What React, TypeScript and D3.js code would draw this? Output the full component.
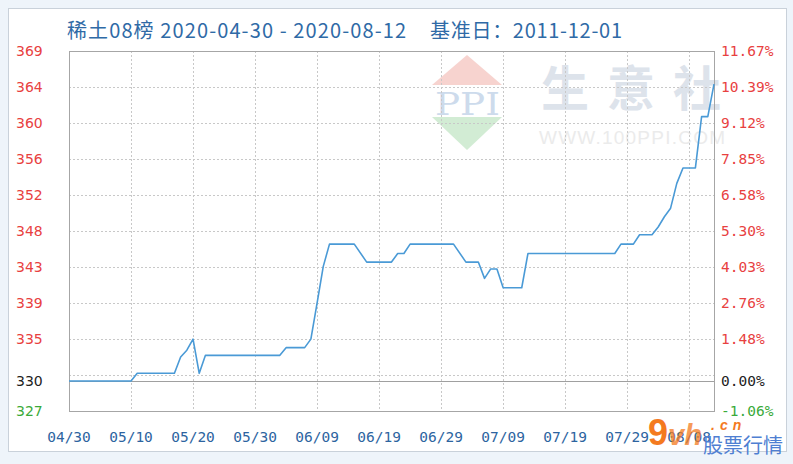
import { useEffect, useRef } from "react"
import * as d3 from "d3"

// chart values
const titleMain = "稀土08榜 2020-04-30 - 2020-08-12"
const titleBase = "基准日：2011-12-01"

const dates = [
  "2020-04-30", "2020-05-10", "2020-05-11", "2020-05-17", "2020-05-18", "2020-05-19",
  "2020-05-20", "2020-05-21", "2020-05-22", "2020-06-03", "2020-06-04", "2020-06-07",
  "2020-06-08", "2020-06-09", "2020-06-10", "2020-06-11", "2020-06-15", "2020-06-17",
  "2020-06-21", "2020-06-22", "2020-06-23", "2020-06-24", "2020-07-01", "2020-07-03",
  "2020-07-05", "2020-07-06", "2020-07-07", "2020-07-08", "2020-07-09", "2020-07-12",
  "2020-07-13", "2020-07-27", "2020-07-28", "2020-07-30", "2020-07-31", "2020-08-02",
  "2020-08-03", "2020-08-04", "2020-08-05", "2020-08-06", "2020-08-07", "2020-08-09",
  "2020-08-10", "2020-08-11", "2020-08-12",
]
const prices = [
  330.5, 330.5, 331.4, 331.4, 333.3, 334.1,
  335.4, 331.4, 333.5, 333.5, 334.4, 334.4,
  335.4, 339.6, 343.9, 346.5, 346.5, 344.4,
  344.4, 345.4, 345.4, 346.5, 346.5, 344.4,
  344.4, 342.5, 343.6, 343.6, 341.4, 341.4,
  345.4, 345.4, 346.5, 346.5, 347.6, 347.6,
  348.5, 349.7, 350.7, 353.6, 355.4, 355.4,
  361.4, 361.4, 365.2,
]
const basePrice = 330.5

const pctTicks = [11.67, 10.39, 9.12, 7.85, 6.58, 5.3, 4.03, 2.76, 1.48, 0.0, -1.06]
const priceTickLabels = ["369", "364", "360", "356", "352", "348", "343", "339", "335", "330", "327"]
const pctTickLabels = ["11.67%", "10.39%", "9.12%", "7.85%", "6.58%", "5.30%", "4.03%", "2.76%", "1.48%", "0.00%", "-1.06%"]

const xTickDates = [
  "2020-04-30", "2020-05-10", "2020-05-20", "2020-05-30", "2020-06-09", "2020-06-19",
  "2020-06-29", "2020-07-09", "2020-07-19", "2020-07-29", "2020-08-08",
]
const xTickLabels = ["04/30", "05/10", "05/20", "05/30", "06/09", "06/19", "06/29", "07/09", "07/19", "07/29", "08/08"]

const W = 793
const H = 464

export default function App() {
  const svgRef = useRef<SVGSVGElement>(null)

  useEffect(() => {
    if (!svgRef.current) return
    const root = d3.select(svgRef.current)
    root.selectAll("*").remove()

    const margin = { top: 51, right: 79, bottom: 53, left: 69 }
    const innerW = W - margin.left - margin.right
    const innerH = H - margin.top - margin.bottom
    const parse = d3.timeParse("%Y-%m-%d")
    const mono = "'DejaVu Sans Mono', monospace"

    // page background and panel
    root.append("rect").attr("width", W).attr("height", H).attr("fill", "#eef4fa")
    root
      .append("rect")
      .attr("x", 8.5)
      .attr("y", 8.5)
      .attr("width", 778)
      .attr("height", 443)
      .attr("fill", "#ffffff")
      .attr("stroke", "#c9d1da")

    // title
    root
      .append("text")
      .attr("x", 67)
      .attr("y", 38)
      .attr("fill", "#2f6aa6")
      .attr("font-family", "'Noto Sans CJK SC', sans-serif")
      .attr("font-size", 20)
      .attr("textLength", 339)
      .attr("lengthAdjust", "spacing")
      .text(titleMain)
    root
      .append("text")
      .attr("x", 430)
      .attr("y", 38)
      .attr("fill", "#2f6aa6")
      .attr("font-family", "'Noto Sans CJK SC', sans-serif")
      .attr("font-size", 20)
      .attr("textLength", 192)
      .attr("lengthAdjust", "spacing")
      .text(titleBase)

    const g = root.append("g").attr("transform", `translate(${margin.left},${margin.top})`)

    const x = d3
      .scaleTime()
      .domain([parse(dates[0])!, parse(dates[dates.length - 1])!])
      .range([0, innerW])
    const y = d3.scaleLinear().domain([-1.06, 11.67]).range([innerH, 0])
    const pct = (p: number) => (p / basePrice - 1) * 100

    // watermark: ppi logo
    const wm = g.append("g").attr("transform", `translate(${-margin.left},${-margin.top})`)
    wm.append("path").attr("d", "M467,55 L502,85 L432,85 Z").attr("fill", "#f7d3cf")
    wm.append("path").attr("d", "M432,117 L502,117 L467,150 Z").attr("fill", "#d2ecd4")
    wm
      .append("text")
      .attr("x", 435)
      .attr("y", 115)
      .attr("font-family", "'DejaVu Serif', serif")
      .attr("font-size", 31)
      .attr("textLength", 65)
      .attr("lengthAdjust", "spacingAndGlyphs")
      .attr("fill", "#cddbec")
      .text("PPI")
    wm
      .append("text")
      .attr("x", 541)
      .attr("y", 106)
      .attr("font-family", "'Noto Sans CJK SC', sans-serif")
      .attr("font-size", 48)
      .attr("font-weight", "bold")
      .attr("letter-spacing", 18)
      .attr("fill", "#dde3eb")
      .text("生意社")
    wm
      .append("text")
      .attr("x", 539)
      .attr("y", 144)
      .attr("font-family", "'Liberation Sans', sans-serif")
      .attr("font-size", 19)
      .attr("textLength", 186)
      .attr("lengthAdjust", "spacing")
      .attr("fill", "#ebebeb")
      .text("WWW.100PPI.COM")

    // grid
    const gridLevels = d3.range(1, 10).map((i) => -1.06 + (i * 12.73) / 10)
    g.append("g")
      .selectAll("line")
      .data(gridLevels)
      .enter()
      .append("line")
      .attr("x1", 0)
      .attr("x2", innerW)
      .attr("y1", (d) => Math.round(y(d)) + 0.5)
      .attr("y2", (d) => Math.round(y(d)) + 0.5)
      .attr("stroke", "#c8c8c8")
      .attr("stroke-dasharray", "2,2")
    g.append("g")
      .selectAll("line")
      .data(xTickDates.slice(1))
      .enter()
      .append("line")
      .attr("x1", (d) => Math.round(x(parse(d)!)) + 0.5)
      .attr("x2", (d) => Math.round(x(parse(d)!)) + 0.5)
      .attr("y1", 0)
      .attr("y2", innerH)
      .attr("stroke", "#c8c8c8")
      .attr("stroke-dasharray", "2,2")

    // base line (0%)
    g.append("line")
      .attr("x1", 0)
      .attr("x2", innerW)
      .attr("y1", Math.round(y(0)) + 0.5)
      .attr("y2", Math.round(y(0)) + 0.5)
      .attr("stroke", "#a0a0a0")

    // frame
    g.append("rect")
      .attr("x", 0.5)
      .attr("y", 0.5)
      .attr("width", innerW)
      .attr("height", innerH)
      .attr("fill", "none")
      .attr("stroke", "#a6a6a6")

    // price line
    const line = d3
      .line<number>()
      .x((_, i) => x(parse(dates[i])!))
      .y((d) => y(pct(d)))
    g.append("path")
      .datum(prices)
      .attr("fill", "none")
      .attr("stroke", "#4a9ad6")
      .attr("stroke-width", 1.6)
      .attr("stroke-linejoin", "round")
      .attr("d", line)

    const tickColor = (v: number) => (v > 0 ? "#e8413f" : v < 0 ? "#3aaa3a" : "#222222")

    // left price labels
    g.append("g")
      .selectAll("text")
      .data(pctTicks)
      .enter()
      .append("text")
      .attr("x", 16 - margin.left)
      .attr("y", (d) => y(d))
      .attr("dy", "0.36em")
      .attr("font-family", "'DejaVu Sans', sans-serif")
      .attr("font-size", 14)
      .attr("fill", (d) => tickColor(d))
      .text((_, i) => priceTickLabels[i])

    // right percent labels
    g.append("g")
      .selectAll("text")
      .data(pctTicks)
      .enter()
      .append("text")
      .attr("x", innerW + 7)
      .attr("y", (d) => y(d))
      .attr("dy", "0.36em")
      .attr("font-family", mono)
      .attr("font-size", 14.5)
      .attr("fill", (d) => tickColor(d))
      .text((_, i) => pctTickLabels[i])

    // x labels
    g.append("g")
      .selectAll("text")
      .data(xTickDates)
      .enter()
      .append("text")
      .attr("x", (d) => x(parse(d)!))
      .attr("y", innerH + 31)
      .attr("text-anchor", "middle")
      .attr("font-family", mono)
      .attr("font-size", 14.5)
      .attr("fill", "#2d64a0")
      .text((_, i) => xTickLabels[i])

    // corner watermark
    const cw = root.append("g")
    cw.append("text")
      .attr("x", 648)
      .attr("y", 445)
      .attr("font-family", "'Liberation Sans', sans-serif")
      .attr("font-weight", "bold")
      .attr("font-size", 36)
      .attr("fill", "#f47a1f")
      .text("9")
    cw.append("text")
      .attr("x", 668)
      .attr("y", 445)
      .attr("font-family", "'Liberation Sans', sans-serif")
      .attr("font-weight", "bold")
      .attr("font-style", "italic")
      .attr("font-size", 29)
      .attr("fill", "#f47a1f")
      .attr("opacity", 0.75)
      .text("vh")
    cw.append("text")
      .attr("x", 711)
      .attr("y", 430)
      .attr("font-family", "'Liberation Sans', sans-serif")
      .attr("font-weight", "bold")
      .attr("font-style", "italic")
      .attr("font-size", 14)
      .attr("letter-spacing", 5)
      .attr("fill", "#f47a1f")
      .text(".cn")
    cw.append("text")
      .attr("x", 703)
      .attr("y", 453)
      .attr("font-family", "'Noto Sans CJK SC', sans-serif")
      .attr("font-size", 20)
      .attr("fill", "#4f7fd2")
      .text("股票行情")
  }, [])

  return (
    <svg
      ref={svgRef}
      width={W}
      height={H}
      style={{ position: "absolute", left: 0, top: 0 }}
    />
  )
}
